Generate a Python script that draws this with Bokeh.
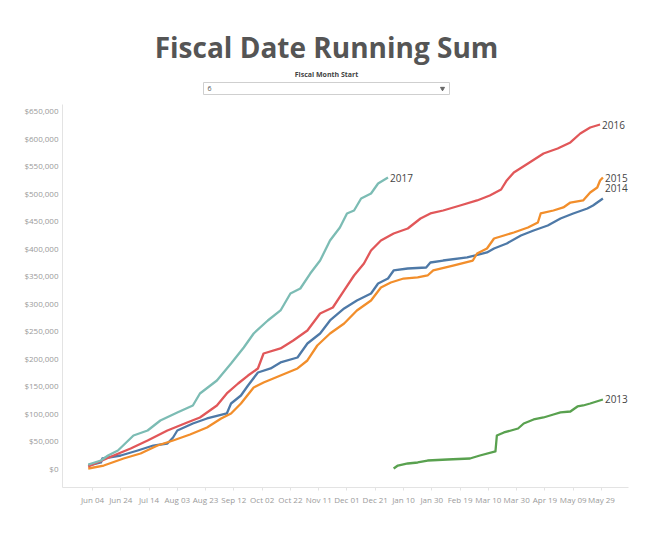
import pandas as pd
from bokeh.plotting import figure
from bokeh.layouts import column
from bokeh.models import (Range1d, FixedTicker, NumeralTickFormatter,
                          DatetimeTickFormatter, Label)
from bokeh.core.properties import value
from bokeh.embed import file_html
from bokeh.resources import INLINE

TITLE = "Fiscal Date Running Sum"
FILTER_LABEL = "Fiscal Month Start"
FILTER_VALUE = "6"

# ---- data (fiscal year starting June; Jun-Dec -> 2015, Jan-May -> 2016 on the common axis)
s2017_dates = ["06-01", "06-10", "06-15", "06-22", "07-03", "07-13", "07-22", "08-03",
               "08-14", "08-19", "08-31", "09-10", "09-19", "09-26", "10-06", "10-15",
               "10-22", "10-29", "11-05", "11-12", "11-19", "11-26", "12-01", "12-06",
               "12-11", "12-18", "12-23", "12-30"]
s2017_values = [7000, 14500, 23600, 32700, 59900, 69000, 87100, 101700,
                114400, 136200, 159800, 190600, 219700, 245100, 268700, 286900,
                317700, 326800, 354000, 377600, 413900, 437500, 463000, 468400,
                490200, 499300, 517400, 528300]

s2016_dates = ["06-01", "06-19", "07-01", "07-13", "07-27", "08-10", "08-19", "08-26",
               "08-31", "09-07", "09-15", "09-22", "09-29", "10-03", "10-15", "10-24",
               "11-03", "11-12", "11-21", "11-29", "12-06", "12-13", "12-18", "12-25",
               "01-03", "01-13", "01-22", "01-29", "02-07", "02-19", "03-02", "03-11",
               "03-19", "03-23", "03-28", "04-07", "04-18", "04-28", "05-07", "05-14",
               "05-21", "05-28"]
s2016_values = [3600, 23600, 36300, 50800, 69000, 83500, 92600, 105300,
                114400, 136200, 154300, 168800, 181600, 208800, 217900, 232400,
                250500, 281400, 292300, 323200, 350400, 372200, 395800, 413900,
                426700, 435700, 453900, 463000, 468400, 477500, 486600, 495600,
                506500, 522900, 537400, 553700, 571900, 581000, 591900, 608200,
                619100, 624500]

s2015_dates = ["06-01", "06-12", "06-26", "07-08", "07-20", "07-31", "08-12", "08-24",
               "09-03", "09-10", "09-17", "09-26", "10-03", "10-15", "10-27", "11-03",
               "11-10", "11-19", "11-29", "12-08", "12-18", "12-25", "01-01", "01-10",
               "01-20", "01-27", "01-31", "02-14", "02-28", "03-02", "03-09", "03-14",
               "03-21", "03-28", "04-07", "04-14", "04-16", "04-25", "05-02", "05-07",
               "05-16", "05-21", "05-26", "05-28", "05-30"]
s2015_values = [0, 5400, 18150, 27200, 41700, 50800, 61700, 74400,
                90800, 99900, 118000, 147100, 156100, 168800, 181600, 196100,
                223300, 245100, 263300, 286900, 305000, 328600, 337700, 344900,
                346800, 350400, 359500, 368500, 377600, 390300, 399400, 417600,
                423000, 428500, 437500, 446600, 463000, 468400, 473900, 482900,
                486600, 501100, 510200, 522900, 528300]

s2014_dates = ["06-01", "06-10", "06-11", "06-24", "07-06", "07-17", "07-27", "07-31",
               "08-03", "08-14", "08-24", "09-07", "09-10", "09-17", "09-22", "09-29",
               "10-08", "10-15", "10-27", "11-03", "11-12", "11-19", "11-29", "12-08",
               "12-18", "12-23", "12-30", "01-03", "01-13", "01-26", "01-29", "02-07",
               "02-24", "03-09", "03-14", "03-23", "04-02", "04-11", "04-21", "04-30",
               "05-09", "05-19", "05-23", "05-30"]
s2014_values = [5400, 10900, 18150, 23600, 32700, 41700, 45400, 56300,
                69000, 81700, 90800, 99900, 118000, 132500, 150700, 174300,
                181600, 192500, 201500, 226900, 245100, 268700, 290500, 305000,
                317700, 335900, 344900, 359500, 363100, 364900, 374000, 377600,
                383100, 392200, 399400, 408500, 423000, 432100, 441200, 453900,
                463000, 472000, 477500, 490200]

s2013_dates = ["01-03", "01-06", "01-13", "01-20", "01-27", "02-10", "02-26", "03-04",
               "03-15", "03-16", "03-21", "03-31", "04-04", "04-11", "04-18", "04-25",
               "04-30", "05-07", "05-12", "05-16", "05-21", "05-30"]
s2013_values = [0, 5400, 9100, 10900, 14500, 16300, 18150, 23600,
                30900, 59900, 65400, 72600, 81700, 89000, 92600, 98000,
                101700, 103500, 112600, 114400, 118000, 125300]

x_tick_dates = ["06-04", "06-24", "07-14", "08-03", "08-23", "09-12", "10-02", "10-22",
                "11-11", "12-01", "12-21", "01-10", "01-30", "02-19", "03-10", "03-30",
                "04-19", "05-09", "05-29"]
y_ticks = [0, 50000, 100000, 150000, 200000, 250000, 300000, 350000, 400000,
           450000, 500000, 550000, 600000, 650000]

series = [
    ("2014", s2014_dates, s2014_values, "#4e79a7", 10),
    ("2015", s2015_dates, s2015_values, "#f28e2b", 0),
    ("2016", s2016_dates, s2016_values, "#e15759", 0),
    ("2017", s2017_dates, s2017_values, "#7cbcb4", 0),
    ("2013", s2013_dates, s2013_values, "#59a14f", 0),
]


def to_date(md):
    m = int(md[:2])
    return pd.Timestamp(f"{2015 if m >= 6 else 2016}-{md}")


def to_ms(ts):
    return ts.value / 1e6


W = 648
LEFT, RIGHT = 62, 20

# ---- header (title + filter control); frame aligned with the chart frame below
HEAD_H = 104
head = figure(width=W, height=HEAD_H, x_range=Range1d(LEFT, W - RIGHT),
              y_range=Range1d(HEAD_H, 0),
              output_backend="svg", toolbar_location=None, min_border=0,
              min_border_left=LEFT, min_border_right=RIGHT,
              x_axis_location=None, y_axis_location=None)
head.outline_line_color = None
head.grid.visible = False
head.text(x=[326], y=[46], text=[TITLE], text_font=value("Open Sans"),
          text_font_style="bold", text_font_size="28px", text_color="#555555",
          text_align="center", text_baseline="middle")
head.text(x=[326], y=[74], text=[FILTER_LABEL], text_font=value("Open Sans"),
          text_font_style="bold", text_font_size="7px", text_color="#444444",
          text_align="center", text_baseline="middle")
head.quad(left=[203], right=[449], top=[82], bottom=[94], fill_color="white",
          line_color="#cfcfcf", line_width=1)
head.text(x=[207], y=[88], text=[FILTER_VALUE], text_font=value("Open Sans"),
          text_font_size="7px", text_color="#555555", text_align="left",
          text_baseline="middle")
head.scatter(x=[442], y=[88], marker="inverted_triangle", size=4,
             color="#666666")

# ---- main chart
t0 = to_date("06-04")
x_start = t0 - pd.Timedelta(days=21.2)
x_end = t0 + pd.Timedelta(days=379.1)

p = figure(width=W, height=423, x_axis_type="datetime",
           x_range=Range1d(to_ms(x_start), to_ms(x_end)),
           y_range=Range1d(-34500, 660840),
           output_backend="svg", toolbar_location=None,
           min_border_left=LEFT, min_border_right=RIGHT, min_border_top=0,
           min_border_bottom=40)
p.outline_line_color = None
p.grid.visible = False

for name, d, v, color, yoff in series:
    xs = [to_ms(to_date(s)) for s in d]
    p.line(xs, v, line_color=color, line_width=2.3, line_join="round")
    p.add_layout(Label(x=xs[-1], y=v[-1], text=name, x_offset=2, y_offset=yoff,
                       text_font="Open Sans", text_font_size="10px",
                       text_color="#444444", text_baseline="middle"))

ticks_ms = [to_ms(to_date(s)) for s in x_tick_dates]
p.xaxis.ticker = FixedTicker(ticks=ticks_ms)
p.xaxis.formatter = DatetimeTickFormatter(days="%b %d", months="%b %d")
p.yaxis.ticker = FixedTicker(ticks=y_ticks)
p.yaxis.formatter = NumeralTickFormatter(format="$0,0")

for ax in (p.xaxis[0], p.yaxis[0]):
    ax.axis_line_color = "#e3e3e3"
    ax.major_tick_line_color = "#e3e3e3"
    ax.minor_tick_line_color = None
    ax.major_label_text_font = "Open Sans"
    ax.major_label_text_font_size = "8px"
    ax.major_label_text_color = "#9a9a9a"
p.xaxis.major_tick_out = 3
p.xaxis.major_tick_in = 0
p.xaxis.major_label_standoff = 3
p.yaxis.major_tick_out = 0
p.yaxis.major_tick_in = 0
p.yaxis.major_label_standoff = 4

layout = column(head, p)
open("out.html", "w").write(file_html(layout, INLINE))
